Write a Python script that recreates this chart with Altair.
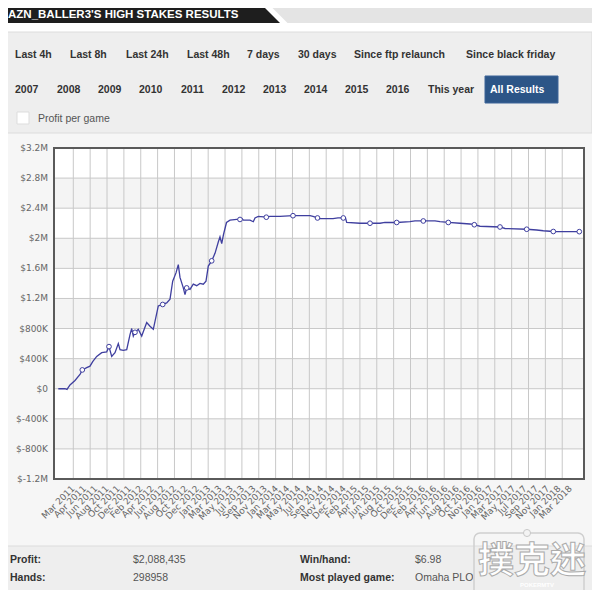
import altair as alt
import pandas as pd

# ---------------- data ----------------
x_labels = ["Mar 2011", "Apr 2011", "Jun 2011", "Aug 2011", "Oct 2011", "Dec 2011",
            "Feb 2012", "Apr 2012", "Jun 2012", "Aug 2012", "Oct 2012", "Dec 2012",
            "Jan 2013", "Mar 2013", "May 2013", "Jul 2013", "Sep 2013", "Nov 2013",
            "Jan 2014", "Mar 2014", "May 2014", "Jul 2014", "Sep 2014", "Nov 2014", "Dec 2014",
            "Feb 2015", "Apr 2015", "Jun 2015", "Aug 2015", "Oct 2015", "Dec 2015",
            "Feb 2016", "Apr 2016", "Jun 2016", "Aug 2016", "Oct 2016", "Nov 2016",
            "Jan 2017", "Mar 2017", "May 2017", "Jul 2017", "Sep 2017", "Nov 2017",
            "Jan 2018", "Mar 2018"]
x_ticks = list(range(len(x_labels)))

y_ticks = [-1.2, -0.8, -0.4, 0.0, 0.4, 0.8, 1.2, 1.6, 2.0, 2.4, 2.8, 3.2]
y_labels = ["$-1.2M", "$-800K", "$-400K", "$0", "$400K", "$800K", "$1.2M",
            "$1.6M", "$2M", "$2.4M", "$2.8M", "$3.2M"]

# profit curve (x in label-index units, value in $M)
line_t = [-1.327, -0.735, -0.558, -0.292, 0.150, 0.593, 0.796, 1.186, 1.478, 1.717,
          2.071, 2.513, 2.956, 3.159, 3.398, 3.690, 3.982, 4.133, 4.425, 4.726,
          5.018, 5.168, 5.310, 5.460, 5.752, 6.053, 6.496, 6.788, 7.080, 7.522,
          7.912, 8.265, 8.558, 8.796, 9.088, 9.292, 9.442, 9.735, 9.885, 10.035,
          10.327, 10.619, 10.920, 11.212, 11.504, 11.743, 11.947, 12.248, 12.540, 12.832,
          12.982, 13.133, 13.292, 13.558, 13.867, 14.460, 14.752, 14.929, 15.062, 15.372,
          15.637, 15.929, 16.080, 16.372, 17.080, 17.407, 18.292, 19.442, 20.947, 21.212,
          21.611, 21.832, 22.982, 23.425, 23.894, 24.088, 24.195, 25.372, 26.257, 27.142,
          27.584, 28.619, 29.796, 30.239, 30.973, 32.009, 32.451, 33.186, 34.221, 35.106,
          35.487, 35.991, 37.761, 38.204, 40.124, 41.009, 41.593, 42.478, 44.779]
line_v = [0.00, 0.00, -0.01, 0.05, 0.11, 0.19, 0.25, 0.28, 0.30, 0.36,
          0.43, 0.48, 0.49, 0.56, 0.43, 0.48, 0.60, 0.52, 0.51, 0.52,
          0.72, 0.80, 0.70, 0.75, 0.79, 0.70, 0.88, 0.83, 0.79, 1.10,
          1.12, 1.14, 1.19, 1.43, 1.54, 1.65, 1.48, 1.34, 1.25, 1.34,
          1.32, 1.39, 1.37, 1.40, 1.39, 1.43, 1.63, 1.70, 1.80, 1.95,
          2.02, 1.93, 2.05, 2.21, 2.24, 2.25, 2.25, 2.26, 2.24, 2.24,
          2.24, 2.22, 2.27, 2.29, 2.28, 2.29, 2.29, 2.30, 2.30, 2.29,
          2.27, 2.26, 2.26, 2.27, 2.27, 2.27, 2.21, 2.20, 2.20, 2.20,
          2.21, 2.21, 2.22, 2.23, 2.23, 2.23, 2.22, 2.21, 2.20, 2.19,
          2.18, 2.16, 2.15, 2.13, 2.12, 2.11, 2.10, 2.09, 2.088]

marker_t = [0.796, 3.159, 5.460, 7.912, 10.035, 12.248, 14.752, 17.080, 19.442, 21.611,
            23.894, 26.257, 28.619, 30.973, 33.186, 35.487, 37.761, 40.124, 42.478, 44.779]
marker_v = [0.25, 0.56, 0.75, 1.12, 1.34, 1.70, 2.25, 2.28, 2.30, 2.27,
            2.27, 2.20, 2.21, 2.23, 2.21, 2.18, 2.15, 2.12, 2.09, 2.088]

band_lo = [-0.8, 0.0, 0.8, 1.6, 2.4]
band_hi = [-0.4, 0.4, 1.2, 2.0, 2.8]

buttons_row1 = ["Last 4h", "Last 8h", "Last 24h", "Last 48h", "7 days", "30 days",
                "Since ftp relaunch", "Since black friday"]
buttons_row2 = ["2007", "2008", "2009", "2010", "2011", "2012", "2013", "2014",
                "2015", "2016", "This year"]
active_button = "All Results"
stats_left = [("Profit:", "$2,088,435"), ("Hands:", "298958")]
stats_right = [("Win/hand:", "$6.98"), ("Most played game:", "Omaha PLO")]
header_title = "AZN_BALLER3'S HIGH STAKES RESULTS"

# ---------------- layout ----------------
W, H = 530, 331
OX, OY = 54, 148          # page position of plot origin
XMIN, XMAX = -1.708, 45.195
grid_t = [i * 1.492 for i in range(30)]

row1_x = [15, 70, 126, 187, 247, 298, 354, 466]
row2_x = [15, 57, 98, 139, 181, 222, 263, 304, 345, 386, 428]

ONE = alt.Data(values=[{"a": 1}])
UI_FONT = "Liberation Sans"


def box(x1, y1, x2, y2, fill, stroke=None, sw=1, **kw):
    props = dict(fill=fill, **kw)
    if stroke:
        props.update(stroke=stroke, strokeWidth=sw)
    return alt.Chart(ONE).mark_rect(**props).encode(
        x=alt.value(x1 - OX), x2=alt.value(x2 - OX),
        y=alt.value(y1 - OY), y2=alt.value(y2 - OY))


def txt(s, px, py, size=10.5, bold=False, color="#333333", font=UI_FONT, **kw):
    return alt.Chart(ONE).mark_text(
        text=s, font=font, fontSize=size, fontWeight="bold" if bold else "normal",
        color=color, align="left", baseline="middle", **kw
    ).encode(x=alt.value(px - OX), y=alt.value(py - OY))


def tri(cx, cy, s, color):
    return alt.Chart(ONE).mark_point(
        shape="M-1,-1L1,1L-1,1Z", filled=True, fill=color, opacity=1, strokeWidth=0, size=s * s
    ).encode(x=alt.value(cx - OX), y=alt.value(cy - OY))


deco = [
    box(0, 0, 600, 32, "#ffffff"),
    box(257, 0, 600, 23, "#e4e4e4"),
    tri(276, 11.5, 23, "#ffffff"),
    box(0, 0, 257, 23, "#1e1e1e"),
    tri(268.5, 11.5, 23, "#1e1e1e"),
    txt(header_title, 8, 15, size=11.5, bold=True, color="#ffffff"),
    box(0, 32, 592, 133, "#eeeeee", stroke="#dcdcdc"),
    box(485, 76, 558, 103, "#2c5587", stroke="#3d6598"),
    txt(active_button, 490, 89.5, bold=True, color="#ffffff"),
    box(17, 112, 29, 124, "#ffffff", stroke="#dddddd"),
    txt("Profit per game", 38, 119, color="#555555", bold=False),
    box(0, 546, 600, 600, "#eeeeee", stroke="#dcdcdc"),
]
for s, px in zip(buttons_row1, row1_x):
    deco.append(txt(s, px, 54.5, bold=True))
for s, px in zip(buttons_row2, row2_x):
    deco.append(txt(s, px, 89.5, bold=True))
for i, (k, v) in enumerate(stats_left):
    deco.append(txt(k, 10, 560 + 18 * i, bold=True))
    deco.append(txt(v, 133, 560 + 18 * i, color="#555555"))
for i, (k, v) in enumerate(stats_right):
    deco.append(txt(k, 300, 560 + 18 * i, bold=True))
    deco.append(txt(v, 415, 560 + 18 * i, color="#555555"))
# watermark frame and logo
deco.append(box(474, 533, 584, 600, "#ffffff", stroke="#cfcfcf", sw=1.5,
                fillOpacity=0, cornerRadius=6))
deco.append(alt.Chart(ONE).mark_point(shape="circle", filled=True, fill="#f3f3f3",
                                      stroke="#c8c8c8", strokeWidth=1, size=50, opacity=1)
            .encode(x=alt.value(527 - OX), y=alt.value(533 - OY)))
deco.append(txt("撲克迷", 478, 562, size=36, bold=True, color="#ffffff",
                font="Noto Sans CJK TC", stroke="#a8a8a8", strokeWidth=1, opacity=0.95))
deco.append(txt("POKERMTV", 520, 585, size=6, bold=True, color="#ffffff"))

# ---------------- plot ----------------
xs = alt.Scale(domain=[XMIN, XMAX], nice=False, zero=False)
ys = alt.Scale(domain=[-1.2, 3.2], nice=False, zero=False)

bands = alt.Chart(pd.DataFrame({"lo": band_lo, "hi": band_hi})).mark_rect(
    fill="#f4f4f4").encode(
    y=alt.Y("lo:Q", scale=ys, axis=None), y2="hi:Q",
    x=alt.value(0), x2=alt.value(W))

vgrid = alt.Chart(pd.DataFrame({"g": grid_t})).mark_rule(
    color="#c8c8c8", strokeWidth=1).encode(x=alt.X("g:Q", scale=xs, axis=None))

hgrid = alt.Chart(pd.DataFrame({"g": y_ticks})).mark_rule(
    color="#c8c8c8", strokeWidth=1).encode(y=alt.Y("g:Q", scale=ys, axis=None))

xlab = alt.Chart(pd.DataFrame({"t": x_ticks, "lab": x_labels})).mark_text(
    angle=315, align="right", baseline="middle", font="DejaVu Sans", fontSize=9,
    color="#666666").encode(
    x=alt.X("t:Q", scale=xs, axis=None), y=alt.value(H + 8), text="lab:N")

ylab = alt.Chart(pd.DataFrame({"v": y_ticks, "lab": y_labels})).mark_text(
    align="right", baseline="middle", font="DejaVu Sans", fontSize=9,
    color="#666666").encode(
    y=alt.Y("v:Q", scale=ys, axis=None), x=alt.value(-6), text="lab:N")

line = alt.Chart(pd.DataFrame({"t": line_t, "v": line_v})).mark_line(
    color="#3f3f9f", strokeWidth=1.3).encode(
    x=alt.X("t:Q", scale=xs, axis=None),
    y=alt.Y("v:Q", scale=ys, axis=None))

markers = alt.Chart(pd.DataFrame({"t": marker_t, "v": marker_v})).mark_point(
    shape="circle", filled=True, fill="#ffffff", stroke="#3f3f9f", strokeWidth=1,
    size=22, opacity=1).encode(
    x=alt.X("t:Q", scale=xs, axis=None), y=alt.Y("v:Q", scale=ys, axis=None))

border = alt.Chart(ONE).mark_rect(fillOpacity=0, stroke="#5a5a5a", strokeWidth=2).encode(
    x=alt.value(0), x2=alt.value(W), y=alt.value(0), y2=alt.value(H))

chart = alt.layer(*deco, bands, vgrid, hgrid, line, markers, border, xlab, ylab).properties(
    width=W, height=H,
    padding={"left": 46, "top": 140, "right": 8, "bottom": 111},
    autosize=alt.AutoSizeParams(type="none"),
    background="#f6f6f6",
).configure_view(strokeWidth=0, fill="#ffffff")

chart.save("out.html", embed_options={"renderer": "svg", "actions": False})
